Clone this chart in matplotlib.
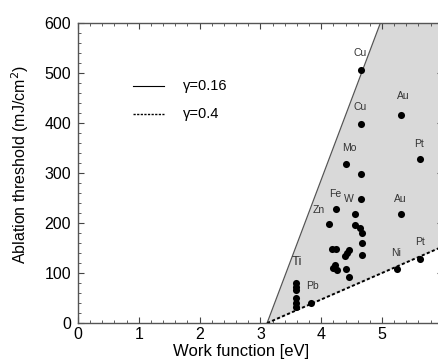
import numpy as np
import matplotlib

matplotlib.use("Agg")
import matplotlib.pyplot as plt
from matplotlib.ticker import MultipleLocator

# measured ablation thresholds vs. work function
work_fn = [4.66, 4.66, 5.32, 5.32, 5.63, 5.63, 5.25, 4.41, 4.66, 4.25, 4.66, 4.12,
           4.55, 4.55, 4.63, 4.67, 4.67, 4.67,
           4.17, 4.25, 4.46, 4.42, 4.39,
           4.23, 4.20, 4.26, 4.41, 4.45,
           3.58, 3.58, 3.58, 3.58, 3.58, 3.58, 3.83]
threshold = [507, 398, 417, 218, 328, 129, 109, 319, 299, 228, 248, 199,
             219, 197, 191, 181, 160, 137,
             149, 149, 147, 141, 134,
             117, 110, 106, 109, 92,
             80, 73, 66, 50, 40, 33, 40]

# element names and the point they mark
names = ["Cu", "Cu", "Au", "Au", "Pt", "Pt", "Ni", "Mo", "Fe", "W", "Zn", "Ti", "Pb"]
name_x = [4.66, 4.66, 5.32, 5.32, 5.63, 5.63, 5.25, 4.41, 4.25, 4.66, 4.12, 3.58, 3.83]
name_y = [507, 398, 417, 218, 328, 129, 109, 319, 228, 248, 199, 80, 40]
name_off = [(-1, 12), (-1, 12), (1, 13), (-1, 11), (-1, 11), (0, 12), (-1, 11),
            (2, 11), (-1, 11), (-9, 0), (-7, 10), (1, 15), (1, 12)]

# onset work function and slopes of the two model lines
w_onset = 3.11
gammas = ["γ=0.16", "γ=0.4"]
slopes = [322.0, 53.0]

plt.rcParams["font.family"] = ["Liberation Sans", "DejaVu Sans"]

fig = plt.figure(figsize=(4.39, 3.63), dpi=100)
ax = fig.add_axes([0.1777, 0.110, 0.831, 0.8266])

xs = np.linspace(w_onset, 6.0, 400)
upper = np.minimum(slopes[0] * (xs - w_onset), 600)
lower = slopes[1] * (xs - w_onset)
ax.fill_between(xs, lower, upper, color="#d9d9d9", lw=0, zorder=1)

x_hi = np.array([w_onset, w_onset + 600 / slopes[0]])
ax.plot(x_hi, slopes[0] * (x_hi - w_onset), color="#555555", lw=0.9, zorder=2)
x_lo = np.array([w_onset, 6.0])
ax.plot(x_lo, slopes[1] * (x_lo - w_onset), color="black", lw=1.4,
        dashes=(1.6, 1.2), zorder=2)

ax.scatter(work_fn, threshold, s=26, color="black", lw=0, zorder=3)

for n, x, y, off in zip(names, name_x, name_y, name_off):
    size = 9.5 if n == "Ti" else 7.5
    ax.annotate(n, (x, y), xytext=off, textcoords="offset points",
                ha="center", va="center", fontsize=size, color="#333333")

# legend drawn by hand inside the axes
ax.plot([0.90, 1.41], [475, 475], color="black", lw=0.8)
ax.plot([0.90, 1.41], [419, 419], color="black", lw=1.0, dashes=(1.6, 1.0))
ax.text(1.73, 475, gammas[0], va="center", fontsize=10.5)
ax.text(1.73, 419, gammas[1], va="center", fontsize=10.5)

ax.set_xlim(0, 6)
ax.set_ylim(0, 600)
ax.xaxis.set_major_locator(MultipleLocator(1))
ax.xaxis.set_minor_locator(MultipleLocator(0.2))
ax.yaxis.set_major_locator(MultipleLocator(100))
ax.yaxis.set_minor_locator(MultipleLocator(20))
ax.tick_params(which="both", direction="in", top=True, right=True,
               labelsize=11.5, color="#444444")
ax.tick_params(which="major", length=4, width=0.8)
ax.tick_params(which="minor", length=2, width=0.6)
ax.tick_params(axis="x", pad=3)
ax.tick_params(axis="y", pad=5)
for sp in ax.spines.values():
    sp.set_color("#555555")
    sp.set_linewidth(1.0)

ax.set_xlabel("Work function [eV]", fontsize=12)
ax.set_ylabel("Ablation threshold (mJ/cm$^2$)", fontsize=11.5)
ax.xaxis.set_label_coords(0.448, -0.07)
ax.yaxis.set_label_coords(-0.13, 0.527)

fig.savefig("out.png", dpi=100)
